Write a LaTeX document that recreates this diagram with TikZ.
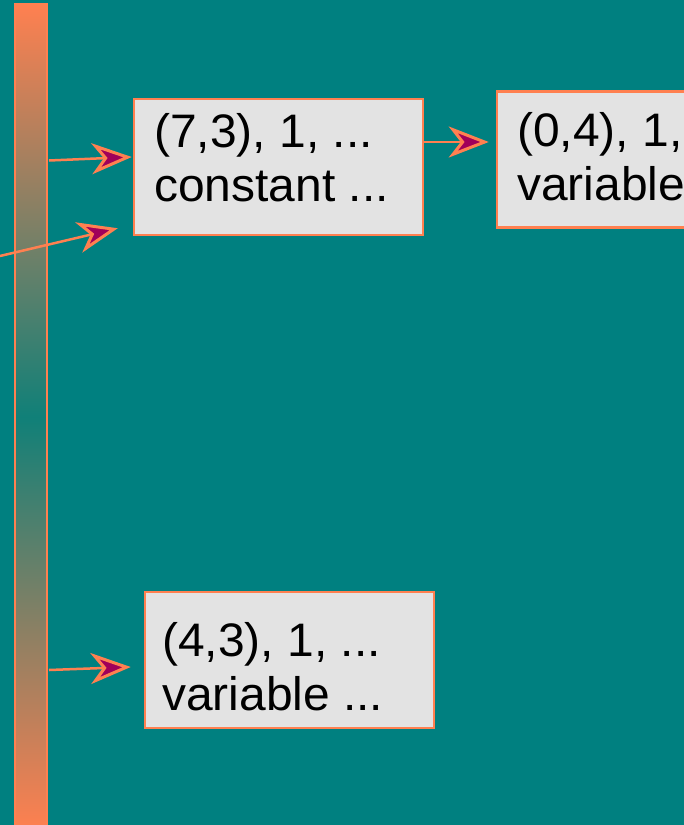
\documentclass[tikz,border=0pt]{standalone}
\usepackage{fontspec}
\setmainfont[FakeStretch=1.02]{Liberation Sans}
\usetikzlibrary{arrows.meta}
\definecolor{bgteal}{HTML}{008080}
\definecolor{coral}{HTML}{FF8050}
\definecolor{barmid}{HTML}{108078}
\definecolor{boxgray}{HTML}{E3E3E3}
\definecolor{tipfill}{HTML}{A0005A}
\newcommand\twolines[2]{\vtop{\hbox{#1}\hbox{#2}}}
\begin{document}
\begin{tikzpicture}[x=1pt,y=-1pt,
  bar/.style={draw=coral, line width=2.5pt, shade, top color=coral, bottom color=coral, middle color=barmid, inner sep=0pt, minimum width=32pt, minimum height=826pt},
  box/.style={draw=coral, line width=2.5pt, fill=boxgray, rectangle, inner sep=0pt, minimum width=289pt, minimum height=136pt},
  txt/.style={anchor=base west, inner sep=0pt, font=\fontsize{47}{54}\selectfont},
  arr/.style={draw=coral, line width=2.5pt, -{Stealth[length=40pt,width=31pt,inset=12pt,line width=3pt,fill=tipfill]}}]
\fill[bgteal] (0,0) rectangle (684,825);
\useasboundingbox (0,0) rectangle (684,825);
\clip (0,0) rectangle (684,825);
% vertical bar
\node[bar] (bar) at (31,417) {};
% boxes
\node[box] (box1) at (278.5,167) {};
\node[box] (box2) at (641.5,159.5) {};
\node[box] (box3) at (289.5,660) {};
% texts
\node[txt] (t1) at (154,147) {\twolines{(7,3), 1, ...}{constant ...}};
\node[txt] (t2) at (517,146) {\twolines{(0,4), 1,}{variable}};
\node[txt] (t3) at (162,656) {\twolines{(4,3), 1, ...}{variable ...}};
% connectors
\coordinate (s1) at (49,160.5);
\coordinate (s2) at (0,256);
\coordinate (s4) at (49,670);
\draw[arr] (s1) -- ([xshift=-1pt,yshift=10pt]box1.west);
\draw[arr] (s2) -- ([xshift=-15pt,yshift=8pt]box1.south west);
\draw[arr] ([yshift=25pt]box1.east) -- ([xshift=-7pt,yshift=17.5pt]box2.west);
\draw[arr] (s4) -- ([xshift=-13pt,yshift=-7pt]box3.west);
\end{tikzpicture}
\end{document}
